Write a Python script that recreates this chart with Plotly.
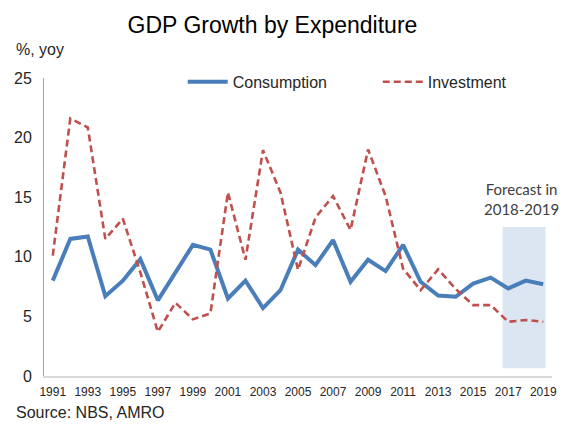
import plotly.graph_objects as go

years = [str(y) for y in range(1991, 2020)]
consumption = [8.0, 11.5, 11.7, 6.7, 8.0, 9.8, 6.35, 8.6, 11.0, 10.6,
               6.5, 8.0, 5.7, 7.2, 10.6, 9.3, 11.4, 7.9, 9.75, 8.8,
               11.0, 7.9, 6.75, 6.65, 7.75, 8.25, 7.35, 8.0, 7.7]
investment = [10.1, 21.6, 20.85, 11.5, 13.2, 8.7, 3.7, 6.15, 4.75, 5.25,
              15.4, 9.75, 18.95, 15.4, 8.9, 13.3, 15.1, 12.25, 19.0, 15.1,
              9.0, 7.2, 8.95, 7.3, 5.95, 5.95, 4.55, 4.7, 4.55]
tick_years = [str(y) for y in range(1991, 2020, 2)]
forecast_start, forecast_end = 25.68, 28.13  # category index span of shaded box
forecast_low, forecast_high = 0.65, 12.5

FONT = "Liberation Sans, Arial, sans-serif"

fig = go.Figure()
fig.add_trace(go.Scatter(x=years, y=consumption, name="Consumption", mode="lines",
                         line=dict(color="#4a7ebb", width=4), legend="legend"))
fig.add_trace(go.Scatter(x=years, y=investment, name="Investment", mode="lines",
                         line=dict(color="#c0504d", width=2.6, dash="7px,4px"),
                         legend="legend2"))

fig.add_shape(type="rect", xref="x", yref="y", x0=forecast_start, x1=forecast_end,
              y0=forecast_low, y1=forecast_high, fillcolor="#dce6f2",
              line=dict(width=0), layer="below")

fig.add_annotation(x=26.78, y=forecast_high, xref="x", yref="y", yanchor="bottom",
                   text="Forecast in<br>2018-2019", showarrow=False, yshift=7,
                   font=dict(family="Lato, Open Sans, sans-serif", size=15, color="#404040"),
                   align="center")

fig.add_annotation(xref="paper", yref="paper", xanchor="left", yanchor="middle",
                   text="%, yoy", showarrow=False, x=-0.059, y=1.094,
                   font=dict(family=FONT, size=16, color="#262626"))
fig.add_annotation(xref="paper", yref="paper", xanchor="left", yanchor="middle",
                   text="Source: NBS, AMRO", showarrow=False, x=-0.059, y=-0.124,
                   font=dict(family=FONT, size=16, color="#262626"))

legend_common = dict(orientation="h", y=0.987, xanchor="left", yanchor="middle",
                     font=dict(family=FONT, size=16, color="#262626"),
                     bgcolor="rgba(0,0,0,0)", itemwidth=40)

fig.update_layout(
    width=563, height=426,
    margin=dict(l=44, r=11, t=78, b=50),
    paper_bgcolor="white", plot_bgcolor="white",
    title=dict(text="GDP Growth by Expenditure", x=0.484, xanchor="center",
               y=0.941, yanchor="middle",
               font=dict(family=FONT, size=23, color="#000000")),
    font=dict(family=FONT, color="#262626"),
    showlegend=True,
    legend=dict(x=0.273, **legend_common),
    legend2=dict(x=0.657, **legend_common),
    xaxis=dict(type="category", range=[-0.5, 28.5], tickmode="array",
               tickvals=tick_years, ticktext=tick_years, automargin=False,
               showgrid=False, showline=True, linecolor="#d9d9d9", linewidth=2,
               ticks="", tickfont=dict(size=12, color="#262626"), zeroline=False,
               ticklabelstandoff=4),
    yaxis=dict(range=[0, 25], dtick=5, showgrid=False, showline=True, automargin=False,
               linecolor="#a6a6a6", linewidth=1, ticks="", zeroline=False,
               tickfont=dict(size=16, color="#262626"), ticklabelstandoff=8),
)

fig.write_html("out.html", config={"displayModeBar": False},
               post_script="document.body.style.margin='0';")
